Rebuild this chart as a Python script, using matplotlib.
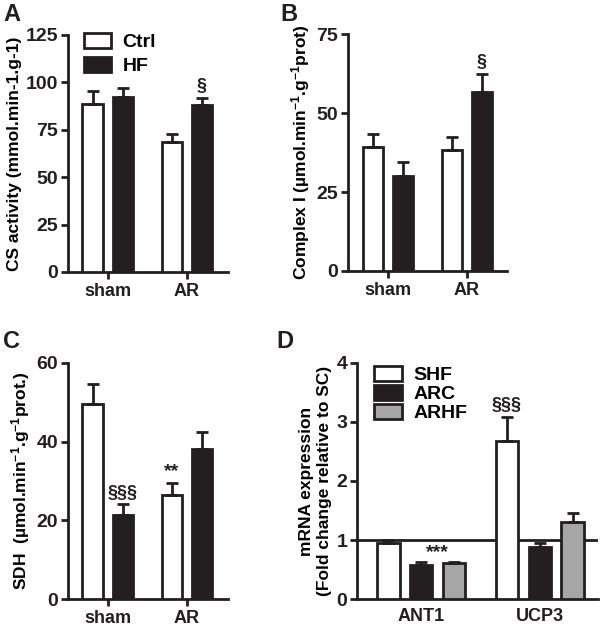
import numpy as np
import matplotlib.pyplot as plt

plt.rcParams['font.family'] = ['Liberation Sans', 'DejaVu Sans']
plt.rcParams['font.weight'] = 'bold'
plt.rcParams['mathtext.fontset'] = 'custom'
plt.rcParams['mathtext.rm'] = 'Liberation Sans:bold'
plt.rcParams['mathtext.default'] = 'rm'

groups = ['sham', 'AR']

# panel A - CS activity
cs_ctrl = [88.7, 68.3]
cs_ctrl_err = [7.0, 4.6]
cs_hf = [92.2, 88.1]
cs_hf_err = [4.8, 3.4]

# panel B - Complex I
c1_ctrl = [39.3, 38.2]
c1_ctrl_err = [4.0, 4.4]
c1_hf = [30.1, 56.6]
c1_hf_err = [4.3, 5.8]

# panel C - SDH
sdh_ctrl = [49.5, 26.4]
sdh_ctrl_err = [5.1, 3.2]
sdh_hf = [21.4, 38.0]
sdh_hf_err = [2.8, 4.4]

# panel D - mRNA
genes = ['ANT1', 'UCP3']
shf = [0.946, 2.675]
shf_err = [0.064, 0.40]
arc = [0.585, 0.879]
arc_err = [0.04, 0.067]
arhf = [0.608, 1.306]
arhf_err = [0.028, 0.154]

BLACK = '#231f20'
GRAY = '#a6a6a6'

fig = plt.figure(figsize=(6.0, 6.29), dpi=100)


def style(ax, xticks=True):
    for s in ['top', 'right']:
        ax.spines[s].set_visible(False)
    for s in ['left', 'bottom']:
        ax.spines[s].set_linewidth(2)
        ax.spines[s].set_color(BLACK)
    ax.tick_params(axis='y', width=2, length=5, labelsize=14, pad=2, colors=BLACK)
    if xticks:
        ax.tick_params(axis='x', width=2, length=5, labelsize=13, pad=3, colors=BLACK)
    else:
        ax.tick_params(axis='x', length=0, labelsize=13, pad=6, colors=BLACK)
    for t in ax.get_xticklabels() + ax.get_yticklabels():
        t.set_fontweight('bold')


def two_bars(ax, a, ae, b, be):
    x = np.arange(len(groups))
    w = 0.265
    ax.bar(x - 0.19, a, w, color='white', edgecolor=BLACK, linewidth=2,
           yerr=[np.zeros(len(a)), ae], error_kw=dict(ecolor=BLACK, elinewidth=2, capsize=4, capthick=2), zorder=3)
    ax.bar(x + 0.19, b, w, color=BLACK, edgecolor=BLACK, linewidth=2,
           yerr=[np.zeros(len(b)), be], error_kw=dict(ecolor=BLACK, elinewidth=2, capsize=4, capthick=2), zorder=3)
    ax.set_xticks(x)
    ax.set_xticklabels(groups)
    return x


# A
axA = fig.add_axes([0.1133, 0.5676, 0.2667, 0.3768])
x = two_bars(axA, cs_ctrl, cs_ctrl_err, cs_hf, cs_hf_err)
axA.set_xlim(-0.506, 1.519)
axA.set_ylim(0, 125)
axA.set_yticks([0, 25, 50, 75, 100, 125])
axA.set_ylabel('CS activity (mmol.min-1.g-1)', fontsize=12.5, fontweight='bold', labelpad=3)
axA.text(x[1] + 0.19, cs_hf[1] + cs_hf_err[1] + 2, '§', ha='center', va='bottom', fontsize=13, color=BLACK)
style(axA)
axA.legend(handles=[plt.Rectangle((0, 0), 1, 1, fc='white', ec=BLACK, lw=2),
                    plt.Rectangle((0, 0), 1, 1, fc=BLACK, ec=BLACK, lw=2)],
           labels=['Ctrl', 'HF'], loc='upper left', bbox_to_anchor=(0.05, 1.04), frameon=False,
           prop={'size': 14, 'weight': 'bold'}, handlelength=1.4, handleheight=0.8,
           handletextpad=0.6, labelspacing=0.3, borderaxespad=0)

# B
axB = fig.add_axes([0.58, 0.5692, 0.265, 0.3763])
x = two_bars(axB, c1_ctrl, c1_ctrl_err, c1_hf, c1_hf_err)
axB.set_xlim(-0.506, 1.506)
axB.set_ylim(0, 75)
axB.set_yticks([0, 25, 50, 75])
axB.set_ylabel('Complex I (µmol.min$^{-1}$.g$^{-1}$prot)', fontsize=12.5, fontweight='bold', labelpad=3)
axB.text(x[1] + 0.19, c1_hf[1] + c1_hf_err[1] + 1, '§', ha='center', va='bottom', fontsize=13, color=BLACK)
style(axB)

# C
axC = fig.add_axes([0.1133, 0.0472, 0.2667, 0.3762])
x = two_bars(axC, sdh_ctrl, sdh_ctrl_err, sdh_hf, sdh_hf_err)
axC.set_xlim(-0.506, 1.519)
axC.set_ylim(0, 60)
axC.set_yticks([0, 20, 40, 60])
axC.set_ylabel('SDH  (µmol.min$^{-1}$.g$^{-1}$prot.)', fontsize=12.5, fontweight='bold', labelpad=3)
axC.text(x[0] + 0.19, sdh_hf[0] + sdh_hf_err[0] + 0.6, '§§§', ha='center', va='bottom', fontsize=13, color=BLACK)
axC.text(x[1] - 0.19, sdh_ctrl[1] + sdh_ctrl_err[1] + 0.6, '**', ha='center', va='bottom', fontsize=14, color=BLACK)
style(axC)

# D
axD = fig.add_axes([0.595, 0.0472, 0.4017, 0.3762])
xg = np.arange(len(genes))
w = 0.19
ek = dict(ecolor=BLACK, elinewidth=2, capsize=4, capthick=2)
axD.bar(xg - 0.277, shf, w, color='white', edgecolor=BLACK, linewidth=2,
        yerr=[np.zeros(2), shf_err], error_kw=ek, zorder=3, label='SHF')
axD.bar(xg, arc, w, color=BLACK, edgecolor=BLACK, linewidth=2,
        yerr=[np.zeros(2), arc_err], error_kw=ek, zorder=3, label='ARC')
axD.bar(xg + 0.277, arhf, w, color=GRAY, edgecolor=BLACK, linewidth=2,
        yerr=[np.zeros(2), arhf_err], error_kw=ek, zorder=3, label='ARHF')
axD.axhline(1, color=BLACK, linewidth=2, zorder=2)
axD.set_xticks(xg)
axD.set_xticklabels(genes)
axD.set_xlim(-0.54, 1.49)
axD.set_ylim(0, 4)
axD.set_yticks([0, 1, 2, 3, 4])
axD.set_ylabel('mRNA expression\n(Fold change relative to SC)', fontsize=12.5, fontweight='bold',
               labelpad=3, linespacing=1.3)
axD.text(xg[0] + 0.14, 0.64, '***', ha='center', va='bottom', fontsize=14, color=BLACK)
axD.text(xg[1] - 0.277, shf[1] + shf_err[1] + 0.05, '§§§', ha='center', va='bottom', fontsize=13, color=BLACK)
style(axD, xticks=False)
axD.legend(loc='upper left', bbox_to_anchor=(0.04, 1.02), frameon=False,
           prop={'size': 14, 'weight': 'bold'}, handlelength=1.4, handleheight=0.8,
           handletextpad=0.6, labelspacing=0.05, borderaxespad=0)

# panel letters
for lbl, px, py in [('A', 0.005, 0.995), ('B', 0.468, 0.995), ('C', 0.005, 0.475), ('D', 0.46, 0.475)]:
    fig.text(px, py, lbl, fontsize=17, fontweight='bold', ha='left', va='top', color=BLACK)

fig.savefig('out.png', dpi=100)
